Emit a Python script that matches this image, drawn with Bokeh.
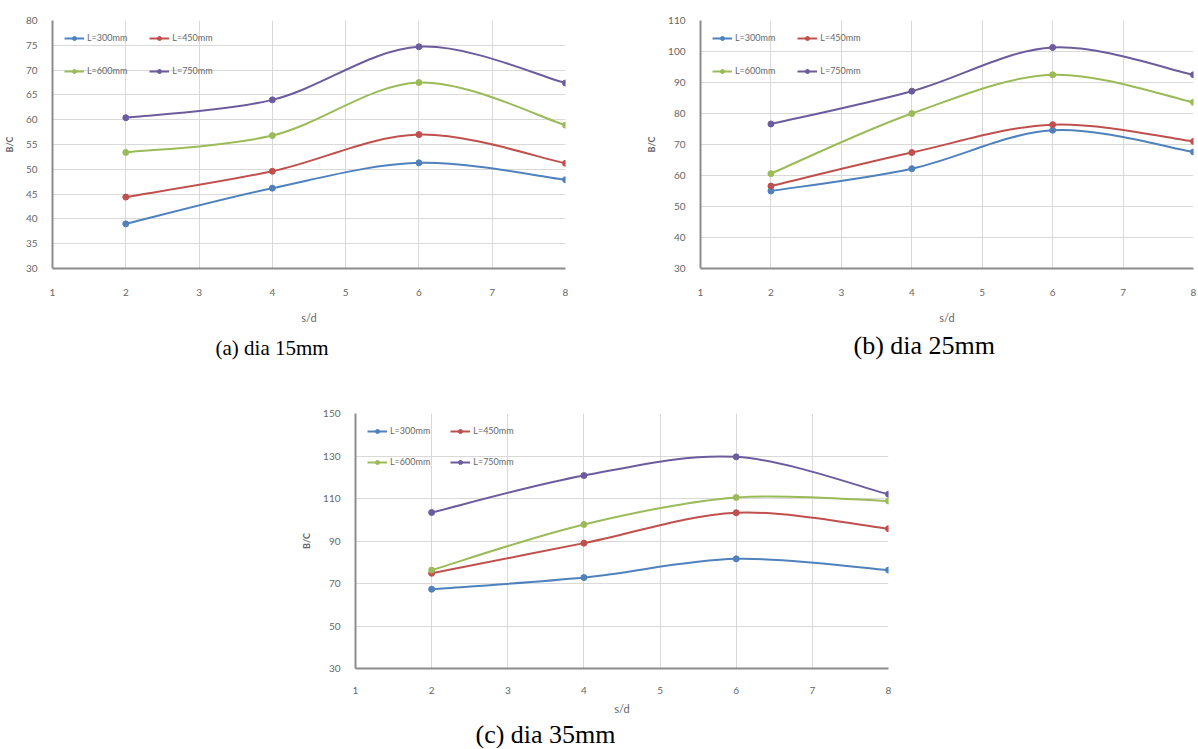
from bokeh.plotting import figure
from bokeh.models import Legend, LegendItem, Title, FixedTicker, Range1d
from bokeh.layouts import column, row
from bokeh.embed import file_html
from bokeh.resources import INLINE

# ---------------- data ----------------
sd = [2, 4, 6, 8]
series_labels = ["L=300mm", "L=450mm", "L=600mm", "L=750mm"]
colors = ["#4F81BD", "#C0504D", "#9BBB59", "#6C5C9E"]

# (a) dia 15mm
bc15_L300 = [39.0, 46.2, 51.3, 47.9]
bc15_L450 = [44.4, 49.6, 57.0, 51.2]
bc15_L600 = [53.4, 56.8, 67.5, 58.9]
bc15_L750 = [60.4, 64.0, 74.7, 67.4]

# (b) dia 25mm
bc25_L300 = [55.0, 62.2, 74.6, 67.6]
bc25_L450 = [56.6, 67.4, 76.4, 71.0]
bc25_L600 = [60.6, 80.0, 92.5, 83.6]
bc25_L750 = [76.6, 87.2, 101.3, 92.5]

# (c) dia 35mm
bc35_L300 = [67.3, 72.8, 81.6, 76.3]
bc35_L450 = [74.8, 89.0, 103.3, 95.8]
bc35_L600 = [76.3, 97.8, 110.5, 108.8]
bc35_L750 = [103.4, 120.8, 129.6, 112.0]

x_ticks = [1, 2, 3, 4, 5, 6, 7, 8]
y_ticks_a = [30, 35, 40, 45, 50, 55, 60, 65, 70, 75, 80]
y_ticks_b = [30, 40, 50, 60, 70, 80, 90, 100, 110]
y_ticks_c = [30, 50, 70, 90, 110, 130, 150]

captions = ["(a) dia 15mm", "(b) dia 25mm", "(c) dia 35mm"]

TICK_FONT = "Lato"
GRID = "#D9D9D9"
AXIS = "#8C8C8C"
TXT = "#666666"


def smooth(xs, ys):
    """Excel-like smoothed line: cubic Bezier control points derived from data."""
    n = len(xs)
    x0, y0, x1, y1, cx0, cy0, cx1, cy1 = [], [], [], [], [], [], [], []
    for i in range(n - 1):
        pm = i - 1 if i > 0 else i
        pp = i + 2 if i + 2 < n else i + 1
        x0.append(xs[i]); y0.append(ys[i])
        x1.append(xs[i + 1]); y1.append(ys[i + 1])
        cx0.append(xs[i] + (xs[i + 1] - xs[pm]) / 6.0)
        cy0.append(ys[i] + (ys[i + 1] - ys[pm]) / 6.0)
        cx1.append(xs[i + 1] - (xs[pp] - xs[i]) / 6.0)
        cy1.append(ys[i + 1] - (ys[pp] - ys[i]) / 6.0)
    return dict(x0=x0, y0=y0, x1=x1, y1=y1, cx0=cx0, cy0=cy0, cx1=cx1, cy1=cy1)


def make_chart(series, yticks, ylo, yhi, caption, fw, fh, bl, br, bt, bb,
               cap_offset, cap_standoff, cap_size, leg_spacing,
               xlab_standoff=14, xtitle_standoff=12):
    p = figure(frame_width=fw, frame_height=fh, output_backend="svg",
               toolbar_location=None, x_range=Range1d(1, 8),
               y_range=Range1d(ylo, yhi),
               min_border_left=bl, min_border_right=br,
               min_border_top=bt, min_border_bottom=bb)
    p.outline_line_color = None
    p.background_fill_color = "white"
    p.border_fill_color = "white"

    p.xaxis.ticker = FixedTicker(ticks=x_ticks)
    p.yaxis.ticker = FixedTicker(ticks=yticks)
    for ax in (p.xaxis, p.yaxis):
        ax.major_tick_line_color = None
        ax.minor_tick_line_color = None
        ax.axis_line_color = AXIS
        ax.axis_line_width = 2
        ax.major_label_text_font = TICK_FONT
        ax.major_label_text_font_size = "10px"
        ax.major_label_text_color = TXT
        ax.axis_label_text_font = TICK_FONT
        ax.axis_label_text_color = TXT
    p.xaxis.major_label_standoff = xlab_standoff
    p.yaxis.major_label_standoff = 9
    p.xaxis.axis_label = "s/d"
    p.xaxis.axis_label_text_font_style = "normal"
    p.xaxis.axis_label_text_font_size = "11px"
    p.xaxis.axis_label_standoff = xtitle_standoff
    p.yaxis.axis_label = "B/C"
    p.yaxis.axis_label_text_font_style = "bold"
    p.yaxis.axis_label_text_font_size = "9px"
    p.yaxis.axis_label_standoff = 8

    p.xgrid.grid_line_color = GRID
    p.ygrid.grid_line_color = GRID
    p.xgrid.grid_line_width = 1
    p.ygrid.grid_line_width = 1

    items = []
    for ys, col, lab in zip(series, colors, series_labels):
        bz = p.bezier(source=smooth(sd, ys), x0="x0", y0="y0", x1="x1", y1="y1",
                      cx0="cx0", cy0="cy0", cx1="cx1", cy1="cy1",
                      line_color=col, line_width=2)
        sc = p.scatter(sd, ys, size=6, marker="circle", fill_color=col,
                       line_color=col)
        items.append(LegendItem(label=lab, renderers=[bz, sc]))

    leg = Legend(items=items, location="top_left", orientation="horizontal",
                 ncols=2, margin=12, padding=0, spacing=leg_spacing,
                 glyph_width=20, glyph_height=10, label_height=10,
                 label_standoff=3, label_text_font=TICK_FONT,
                 label_text_font_size="9px", label_text_color=TXT,
                 background_fill_alpha=0, border_line_color=None)
    p.add_layout(leg, "center")

    t = Title(text=caption, align="left", offset=cap_offset,
              standoff=cap_standoff, text_font="Liberation Serif",
              text_font_size=cap_size, text_font_style="normal",
              text_color="#000000")
    p.add_layout(t, "below")
    return p


pa = make_chart([bc15_L300, bc15_L450, bc15_L600, bc15_L750], y_ticks_a, 30, 80,
                captions[0], fw=513, fh=248, bl=52, br=75, bt=20, bb=102,
                cap_offset=163, cap_standoff=14, cap_size="21px", leg_spacing=22)
pb = make_chart([bc25_L300, bc25_L450, bc25_L600, bc25_L750], y_ticks_b, 30, 110,
                captions[1], fw=493, fh=248, bl=60, br=5, bt=20, bb=102,
                cap_offset=153, cap_standoff=4, cap_size="26px", leg_spacing=22)
pc = make_chart([bc35_L300, bc35_L450, bc35_L600, bc35_L750], y_ticks_c, 30, 150,
                captions[2], fw=533, fh=255, bl=355, br=310, bt=43, bb=80,
                cap_offset=120, cap_standoff=0, cap_size="26px", leg_spacing=20,
                xlab_standoff=12, xtitle_standoff=5)

layout = column(row(pa, pb), pc)
open("out.html", "w").write(file_html(layout, INLINE))
